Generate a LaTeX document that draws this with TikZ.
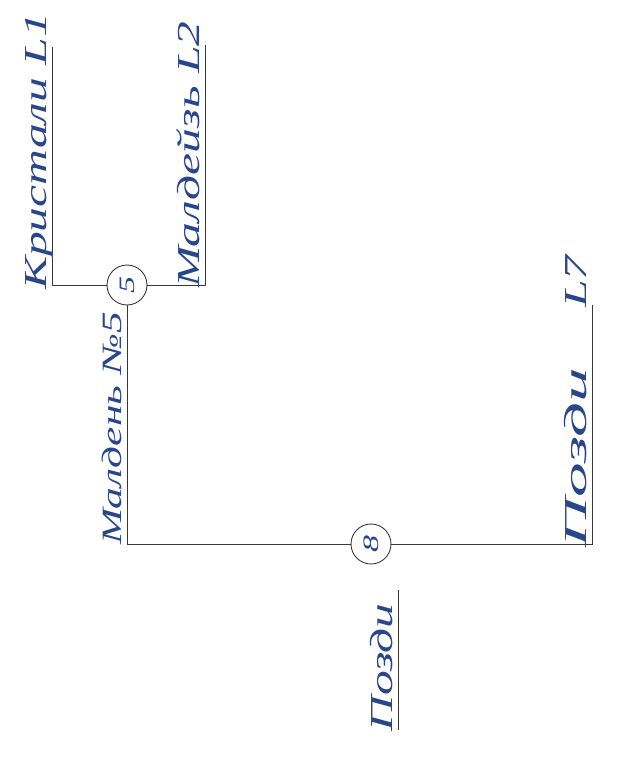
\documentclass[tikz,border=0pt]{standalone}
\usepackage{graphicx}
\usepackage{fontspec}
\setmainfont{Liberation Serif}
\newfontfamily\handfont{Liberation Serif Italic}[FakeStretch=1.55]
\usetikzlibrary{positioning}
\definecolor{ink}{RGB}{40,70,140}
\definecolor{pen}{RGB}{55,55,55}
\tikzset{
  junction/.style={draw=pen, circle, line width=0.9pt, minimum size=40pt, inner sep=0pt, text=ink, font=\handfont\fontsize{22}{22}\selectfont, rotate=90},
  leaf/.style={rotate=90, anchor=base west, text=ink, font=\handfont\fontsize{32}{32}\selectfont, inner sep=0pt},
  branch/.style={draw=pen, line width=0.8pt}
}

\begin{document}
\begin{tikzpicture}[x=1pt,y=-1pt]
    \useasboundingbox (0,0) rectangle (636,757);

    \node[junction] (n5) at (127,285) {5};
    \node[junction] (n8) at (371,544) {8};

    \coordinate (l1top) at (52,47);
    \coordinate (l1) at (52,285);
    \coordinate (l2top) at (205,45);
    \coordinate (l2) at (205,285);
    \coordinate (m5) at (127,544);
    \coordinate (l7top) at (592,305);
    \coordinate (l7) at (592,544);
    \coordinate (r1) at (398,590);
    \coordinate (r2) at (398,730);

    \draw[branch] (l1top) -- (l1) -- (n5) -- (l2) -- (l2top);
    \draw[branch] (n5) -- (m5) -- (n8) -- (l7) -- (l7top);
    \draw[branch] (r1) -- (r2);

    \node[leaf] (t1) at (46,290) {Кристали L1};
    \node[leaf] (t2) at (199,288) {Малдейзь L2};
    \node[leaf, font=\handfont\fontsize{28}{28}\selectfont] (t5) at (121,545) {Малдень №5};
    \node[leaf] (t7) at (586,548) {\scalebox{1.4}[1]{Позди}\hspace{60pt}L7};
    \node[leaf] (t8) at (392,732) {Позди};
\end{tikzpicture}
\end{document}
